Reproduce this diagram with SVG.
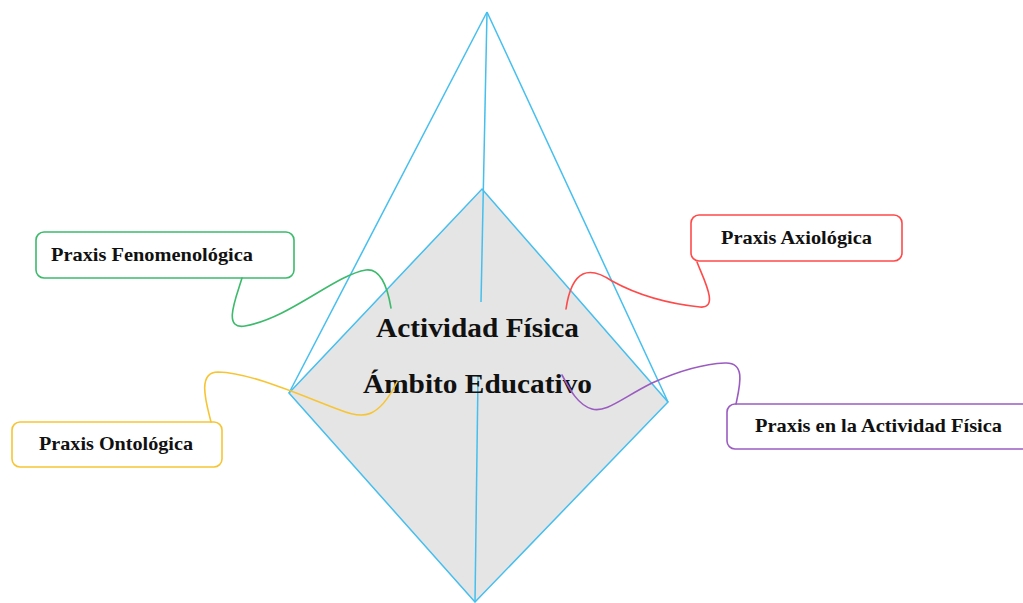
<svg xmlns="http://www.w3.org/2000/svg" width="1023" height="603" viewBox="0 0 1023 603">
<style>
.edge{stroke:#45bfee;stroke-width:1.5;fill:none;stroke-linejoin:round}
.box{fill:#ffffff;stroke-width:1.6}
.lbl{font-family:"Liberation Serif","Times New Roman",serif;font-weight:bold;font-size:19px;fill:#111}
.big{font-family:"Liberation Serif","Times New Roman",serif;font-weight:bold;font-size:28px;fill:#111}
.con{fill:none;stroke-width:1.6;stroke-linecap:round}
</style>
<rect width="1023" height="603" fill="#ffffff"/>
<g id="pyramid">
<polygon points="482,189 668,402 475,602 289,393" fill="#e5e5e5" stroke="#45bfee" stroke-width="1.5"/>
<line class="edge" x1="487" y1="12" x2="289" y2="393"/>
<line class="edge" x1="487" y1="12" x2="668" y2="402"/>
<line class="edge" x1="487" y1="12" x2="481" y2="302"/>
<line class="edge" x1="478" y1="376" x2="475" y2="602"/>
</g>
<g id="center">
<text class="big" x="376" y="337" textLength="203" lengthAdjust="spacingAndGlyphs">Actividad Física</text>
<text class="big" x="363" y="393" textLength="229" lengthAdjust="spacingAndGlyphs">Ámbito Educativo</text>
</g>
<g id="fenomenologica">
<rect class="box" x="36" y="232" width="258" height="46" rx="8" stroke="#3dba6c"/>
<text class="lbl" x="51" y="261" textLength="202" lengthAdjust="spacingAndGlyphs">Praxis Fenomenológica</text>
</g>
<g id="ontologica">
<rect class="box" x="12" y="422" width="210" height="45" rx="8" stroke="#f7c534"/>
<text class="lbl" x="39" y="450" textLength="154" lengthAdjust="spacingAndGlyphs">Praxis Ontológica</text>
</g>
<g id="axiologica">
<rect class="box" x="691" y="215" width="211" height="46" rx="8" stroke="#ff4a4a"/>
<text class="lbl" x="721" y="244" textLength="151" lengthAdjust="spacingAndGlyphs">Praxis Axiológica</text>
</g>
<g id="actividad">
<rect class="box" x="727" y="404" width="310" height="45" rx="8" stroke="#9a5cc0"/>
<text class="lbl" x="755" y="432" textLength="247" lengthAdjust="spacingAndGlyphs">Praxis en la Actividad Física</text>
</g>
<g id="connectors">
<path class="con" stroke="#3dba6c" d="M242,278 C236,298 222,330 245,326 C290,318 335,275 366,270 C382,268 388,290 391,308"/>
<path class="con" stroke="#f7c534" d="M211,422 C207,405 196,372 218,372 C252,373 300,395 340,410 C362,419 378,420 397,382"/>
<path class="con" stroke="#ff4a4a" d="M697,262 C703,278 720,309 700,307 C662,303 632,292 612,281 C590,266 572,268 566,309"/>
<path class="con" stroke="#9a5cc0" d="M736,404 C740,385 746,362 725,363 C700,364 672,374 652,383 C622,398 606,413 592,409 C578,405 570,390 562,375"/>
</g>
</svg>
